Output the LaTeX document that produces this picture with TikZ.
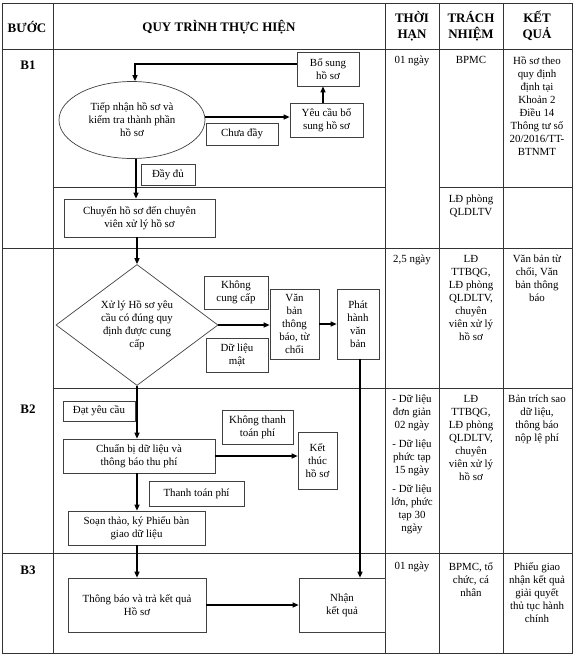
\documentclass[tikz,border=0pt]{standalone}
\usepackage{fontspec}
\setmainfont{Liberation Serif}
\usetikzlibrary{shapes.geometric,arrows.meta}
\begin{document}
\begin{tikzpicture}[x=1pt,y=-1pt,
  every node/.style={font=\fontsize{10.9}{13}\selectfont, align=center, inner sep=1pt},
  box/.style={draw=black!75, line width=0.7pt, rectangle, inner sep=1pt},
  arr/.style={line width=1.2pt, -{Triangle[length=6pt,width=5pt]}},
  grid/.style={draw=black!80, line width=0.8pt},
  hdr/.style={font=\fontsize{13}{16}\selectfont\bfseries},
  cell/.style={anchor=north, inner sep=0pt}
]
\useasboundingbox (0,0) rectangle (576,657);
% ---------- table ----------
\draw[grid] (2,3) rectangle (572,653);
\draw[grid] (2,49) -- (572,49);
\draw[grid] (2,248) -- (572,248);
\draw[grid] (2,553) -- (572,553);
\draw[grid] (53,187) -- (385,187);
\draw[grid] (439,187) -- (572,187);
\draw[grid] (53,388) -- (572,388);
\foreach \x in {53,385,439,503} \draw[grid] (\x,3) -- (\x,653);
% ---------- headers ----------
\node[hdr] (hbuoc) at (27,27) {BƯỚC};
\node[hdr] (hquy) at (219,27) {QUY TRÌNH THỰC HIỆN};
\node[hdr] (hthoi) at (412,26) {THỜI\\HẠN};
\node[hdr] (htrach) at (471,26) {TRÁCH\\NHIỆM};
\node[hdr] (hket) at (537,26) {KẾT\\QUẢ};
\node[hdr] (b1) at (28,65) {B1};
\node[hdr] (b2) at (28,409) {B2};
\node[hdr] (b3) at (28,570) {B3};
% ---------- right columns ----------
\node[cell] (t1) at (412,56) {01 ngày};
\node[cell] (r1) at (471,56) {BPMC};
\node[cell] (k1) at (537,56) {Hồ sơ theo\\quy định\\định tại\\Khoản 2\\Điều 14\\Thông tư số\\20/2016/TT-\\BTNMT};
\node[cell] (r1b) at (471,195) {LĐ phòng\\QLDLTV};
\node[cell] (t2) at (412,255) {2,5 ngày};
\node[cell] (r2) at (471,255) {LĐ\\TTBQG,\\LĐ phòng\\QLDLTV,\\chuyên\\viên xử lý\\hồ sơ};
\node[cell] (k2) at (537,255) {Văn bản từ\\chối, Văn\\bản thông\\báo};
\node[cell] (t2b) at (412,395) {- Dữ liệu\\đơn giản\\02 ngày\\[6pt]- Dữ liệu\\phức tạp\\15 ngày\\[6pt]- Dữ liệu\\lớn, phức\\tạp 30\\ngày};
\node[cell] (r2b) at (471,395) {LĐ\\TTBQG,\\LĐ phòng\\QLDLTV,\\chuyên\\viên xử lý\\hồ sơ};
\node[cell] (k2b) at (537,395) {Bản trích sao\\dữ liệu,\\thông báo\\nộp lệ phí};
\node[cell] (t3) at (412,562) {01 ngày};
\node[cell] (r3) at (471,562) {BPMC, tổ\\chức, cá\\nhân};
\node[cell] (k3) at (537,562) {Phiếu giao\\nhận kết quả\\giải quyết\\thủ tục hành\\chính};
% ---------- flow nodes ----------
\coordinate (sp) at (136,0);
\node[draw=black!75, line width=0.7pt, ellipse, minimum width=146pt, minimum height=77pt, inner sep=0pt] (ell) at (132,120) {Tiếp nhận hồ sơ và\\kiểm tra thành phần\\hồ sơ};
\node[box, minimum width=72pt, minimum height=22pt] (chuaday) at (242,134) {Chưa đầy};
\node[box, minimum width=73pt, minimum height=34pt] (yeucau) at (326.5,120) {Yêu cầu bổ\\sung hồ sơ};
\node[box, minimum width=62pt, minimum height=34pt] (bosung) at (328,69) {Bổ sung\\hồ sơ};
\node[box, minimum width=54pt, minimum height=21pt] (daydu) at (168,174.5) {Đầy đủ};
\node[box, minimum width=151pt, minimum height=38pt] (chuyen) at (139.5,218) {Chuyển hồ sơ đến chuyên\\viên xử lý hồ sơ};
\node[draw=black!75, line width=0.7pt, diamond, aspect=1.34, minimum width=162pt, minimum height=121pt, inner sep=0pt] (dia) at (137,325) {Xử lý Hồ sơ yêu\\cầu có đúng quy\\định được cung\\cấp};
\node[box, minimum width=64pt, minimum height=33pt] (khongcc) at (236,292.5) {Không\\cung cấp};
\node[box, minimum width=62pt, minimum height=34pt] (mat) at (237,355) {Dữ liệu\\mật};
\node[box, minimum width=49pt, minimum height=70pt] (vanban) at (294.5,324) {Văn\\bản\\thông\\báo, từ\\chối};
\node[box, minimum width=42pt, minimum height=70pt] (phathanh) at (358,324) {Phát\\hành\\văn\\bản};
\node[box, minimum width=72pt, minimum height=20pt] (datyc) at (99,411) {Đạt yêu cầu};
\node[box, minimum width=152pt, minimum height=34pt] (chuanbi) at (139,456) {Chuẩn bị dữ liệu và\\thông báo thu phí};
\node[box, minimum width=71pt, minimum height=34pt] (khongtt) at (257.5,427) {Không thanh\\toán phí};
\node[box, minimum width=39pt, minimum height=57pt] (ketthuc) at (317.5,460.5) {Kết\\thúc\\hồ sơ};
\node[box, minimum width=95pt, minimum height=25pt] (thanhtoan) at (196.5,493.5) {Thanh toán phí};
\node[box, minimum width=137pt, minimum height=34pt] (soan) at (136.5,528) {Soạn thảo, ký Phiếu bàn\\giao dữ liệu};
\node[box, minimum width=138pt, minimum height=54pt] (thongbao) at (137,605) {Thông báo và trả kết quả\\Hồ sơ};
\node[box, minimum width=86pt, minimum height=54pt] (nhan) at (342,605) {Nhận\\kết quả};
% ---------- connectors ----------
\draw[arr] ([yshift=5pt]bosung.west) -| ([xshift=3pt]ell.north);
\draw[arr] (yeucau.north -| 323,0) -- (bosung.south -| 323,0);
\draw[arr] ([yshift=3pt]ell.east) -- ([yshift=3pt]ell.east -| yeucau.west);
\draw[arr] (ell.south -| sp) -- (chuyen.north -| sp);
\draw[arr] (chuyen.south -| dia.north) -- (dia.north);
\draw[arr] (dia.east) -- (dia.east -| vanban.west);
\draw[arr] (vanban.east) -- (phathanh.west);
\draw[arr] (phathanh.south -| 360,0) -- (nhan.north -| 360,0);
\draw[arr] (dia.south) -- (chuanbi.north -| dia.south);
\draw[arr] (chuanbi.east) -- (chuanbi.east -| ketthuc.west);
\draw[arr] (chuanbi.south -| dia.south) -- (soan.north -| dia.south);
\draw[arr] (soan.south -| dia.south) -- (thongbao.north -| dia.south);
\draw[arr] (thongbao.east) -- (nhan.west);
\end{tikzpicture}
\end{document}
